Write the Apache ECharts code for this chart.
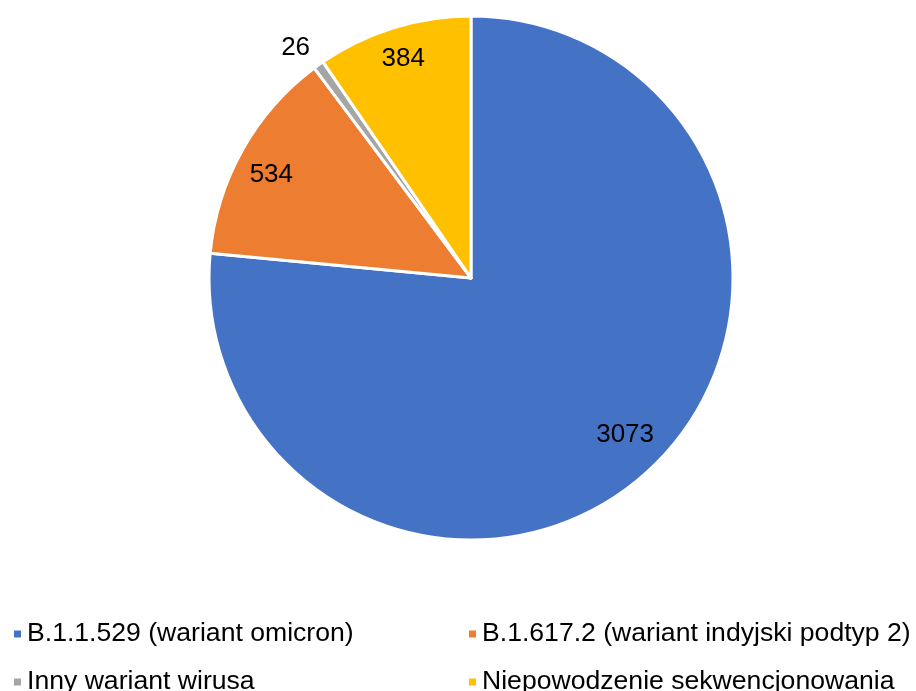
<!DOCTYPE html>
<html>
<head>
<meta charset="utf-8">
<script src="https://cdn.jsdelivr.net/npm/echarts@6/dist/echarts.min.js"></script>
<style>
  html, body { margin: 0; padding: 0; background: #fff; }
  #chart { width: 916px; height: 691px; }
</style>
</head>
<body>
<div id="chart"></div>
<script>
// warianty
const categories = [
  'B.1.1.529 (wariant omicron)',
  'B.1.617.2 (wariant indyjski podtyp 2)',
  'Inny wariant wirusa',
  'Niepowodzenie sekwencjonowania'
];
const values = [3073, 534, 26, 384];
const colors = ['#4472C4', '#ED7D31', '#A5A5A5', '#FFC000'];

const chart = echarts.init(document.getElementById('chart'));

const mainData = categories.map((name, i) => ({
  name: name,
  value: values[i],
  itemStyle: { color: colors[i] }
}));

// przesuniecia etykiet (padding), jak w Excelu "najlepsze dopasowanie"
const labelPad = [[0, 0, 26, 0], [18, 0, 0, 0], [0, 0, 24, 0], [0, 0, 0, 0]];

const labelData = categories.map((name, i) => {
  const d = {
    name: name, value: values[i],
    label: { rich: { v: { padding: labelPad[i] } } }
  };
  if (i === 2) {
    d.label.position = 'outside';
    d.labelLine = { show: false, length: 6, length2: 0 };
  }
  return d;
});

const legendText = { fontFamily: 'Liberation Sans, Arial', fontSize: 26.6, lineHeight: 30, color: '#000' };
const legendPos = [[12, 619], [467, 619], [12, 667], [467, 667]];

const legends = categories.map((name, i) => ({
  data: [name],
  left: legendPos[i][0], top: legendPos[i][1],
  padding: 0,
  icon: 'rect', itemWidth: 9, itemHeight: 9,
  textStyle: legendText,
  selectedMode: false
}));

const option = {
  animation: false,
  color: colors,
  legend: legends,
  series: [
    {
      type: 'pie',
      center: [471, 278],
      radius: [0, 262],
      startAngle: 90,
      clockwise: true,
      label: { show: false },
      labelLine: { show: false },
      itemStyle: { borderColor: '#fff', borderWidth: 3 },
      emphasis: { disabled: true },
      data: mainData
    },
    {
      type: 'pie',
      center: [471, 278],
      radius: [190, 262],
      startAngle: 90,
      clockwise: true,
      silent: true,
      itemStyle: { color: 'transparent' },
      label: {
        show: true,
        position: 'inside',
        formatter: '{v|{c}}',
        fontFamily: 'Liberation Sans, Arial',
        fontSize: 26,
        color: '#000',
        rich: { v: { fontFamily: 'Liberation Sans, Arial', fontSize: 26, color: '#000' } }
      },
      labelLine: { show: false },
      emphasis: { disabled: true },
      data: labelData
    }
  ]
};

chart.setOption(option);
</script>
</body>
</html>
